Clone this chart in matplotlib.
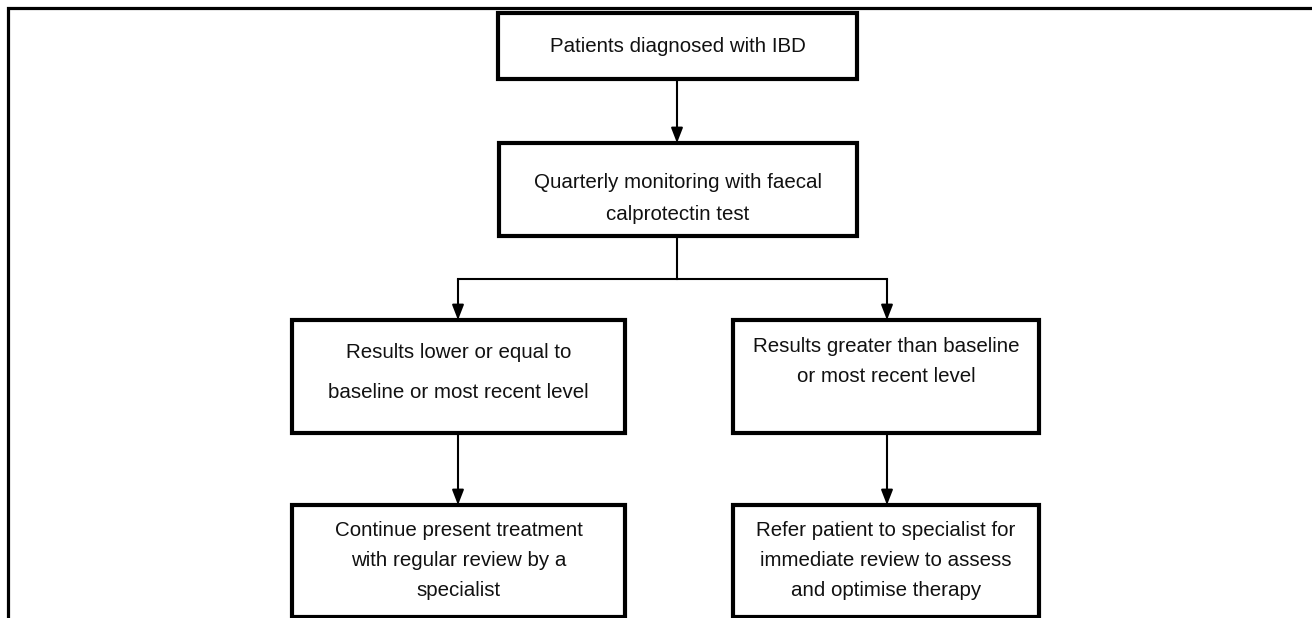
import matplotlib
matplotlib.use("Agg")
import matplotlib.pyplot as plt
from matplotlib.patches import Rectangle

plt.rcParams['font.family'] = ['Liberation Sans Narrow', 'Liberation Sans', 'DejaVu Sans']

# box texts (one entry per line)
box_lines = [
    ["Patients diagnosed with IBD"],
    ["Quarterly monitoring with faecal", "calprotectin test"],
    ["Results lower or equal to", "baseline or most recent level"],
    ["Results greater than baseline", "or most recent level"],
    ["Continue present treatment", "with regular review by a", "specialist"],
    ["Refer patient to specialist for", "immediate review to assess", "and optimise therapy"],
]

# layout in pixels (x0, x1, y0, y1), y from top
box_xy = [
    (498, 857, 13, 79),
    (499, 857, 143, 236),
    (292, 625, 320, 433),
    (733, 1039, 320, 433),
    (292, 625, 505, 617),
    (733, 1039, 505, 617),
]
line_y = [
    [47],
    [182, 215],
    [352, 392],
    [347, 377],
    [530, 560, 590],
    [530, 560, 590],
]

W, H = 1312, 618
fig = plt.figure(figsize=(W / 100, H / 100), dpi=100)
ax = fig.add_axes([0, 0, 1, 1])
ax.set_xlim(0, W)
ax.set_ylim(H, 0)
ax.set_axis_off()

# outer frame (left and top only)
ax.plot([7.5, 7.5, W], [H, 8, 8], color="black", lw=2.3, solid_joinstyle="miter")

for (x0, x1, y0, y1), lines, ys in zip(box_xy, box_lines, line_y):
    ax.add_patch(Rectangle((x0, y0), x1 - x0, y1 - y0, fill=False,
                           edgecolor="black", lw=3.0, joinstyle="miter"))
    cx = (x0 + x1) / 2
    for txt, y in zip(lines, ys):
        ax.text(cx, y, txt, ha="center", va="center", fontsize=14.8, color="#111111")


def arrow(x, y0, y1):
    ax.annotate("", xy=(x, y1), xytext=(x, y0),
                arrowprops=dict(arrowstyle="-|>,head_length=0.9,head_width=0.35",
                                color="black", lw=1.5, shrinkA=0, shrinkB=0))


arrow(677, 79, 143)
ax.plot([677, 677], [236, 279], color="black", lw=1.5)
ax.plot([458, 887], [279, 279], color="black", lw=1.5)
arrow(458, 279, 320)
arrow(887, 279, 320)
arrow(458, 433, 505)
arrow(887, 433, 505)

fig.savefig("out.png", dpi=100)
